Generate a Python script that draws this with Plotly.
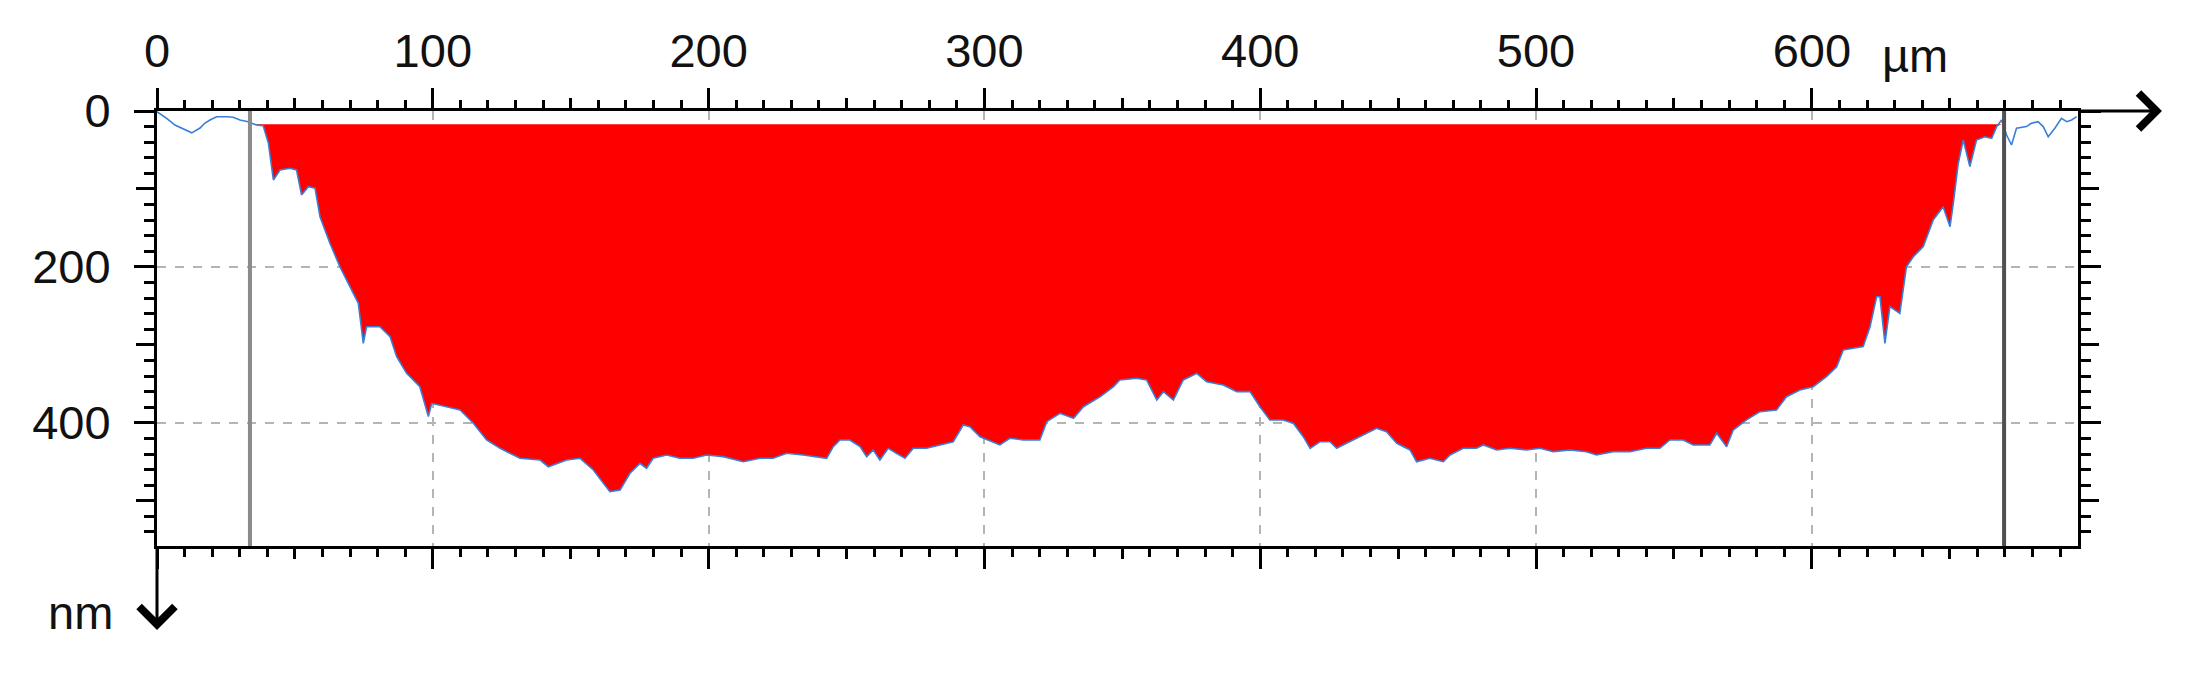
import numpy as np
import plotly.graph_objects as go

# profile: position (um) and depth below the surface (nm)
PROFILE_X_UM = [
    0.0, 3.5, 6.5, 9.0, 12.6, 15.6, 17.4, 19.2, 21.6, 25.3, 27.6, 30.1, 33.0, 36.1,
    38.5, 40.4, 42.2, 44.6, 48.2, 50.6, 52.4, 54.9, 57.3, 59.1, 62.7, 66.3, 70.0, 73.0,
    74.8, 76.0, 80.8, 84.5, 86.9, 90.5, 95.3, 98.4, 99.6, 105.0, 109.9, 114.7, 119.5,
    124.4, 131.6, 138.9, 141.9, 148.5, 153.4, 158.2, 161.8, 164.2, 167.9, 171.5, 175.1,
    177.5, 179.9, 184.8, 189.6, 194.4, 199.3, 205.3, 212.6, 218.6, 223.4, 228.3, 234.3,
    239.2, 242.8, 245.2, 247.6, 251.2, 254.9, 257.3, 259.7, 262.1, 265.1, 268.1, 271.2,
    274.2, 279.0, 283.9, 288.7, 292.3, 294.7, 298.4, 303.2, 305.6, 309.2, 314.1, 320.1,
    322.6, 327.4, 332.3, 335.9, 342.0, 346.8, 349.1, 355.2, 358.8, 362.5, 364.9, 368.5,
    372.1, 377.0, 380.6, 386.6, 391.5, 396.3, 399.9, 403.5, 408.3, 412.0, 415.6, 418.1,
    421.7, 425.3, 427.7, 431.3, 435.0, 438.6, 442.2, 445.8, 449.5, 454.3, 456.7, 461.5,
    466.4, 468.8, 473.6, 478.4, 480.9, 485.7, 490.5, 496.6, 501.4, 506.3, 512.3, 518.3,
    521.9, 528.0, 534.0, 540.1, 544.9, 548.5, 553.4, 557.0, 563.0, 565.5, 569.1, 571.5,
    576.3, 581.2, 587.2, 590.8, 595.7, 600.5, 605.3, 609.0, 611.4, 615.0, 618.6, 621.1,
    623.5, 624.7, 626.5, 628.3, 631.9, 634.3, 636.8, 640.4, 644.0, 647.6, 650.1, 651.3,
    653.1, 654.9, 657.3, 659.7, 662.7, 665.2, 667.0, 668.8, 670.6, 672.4, 674.2, 677.8,
    679.6, 682.0, 683.9, 685.7, 688.1, 690.5, 692.4, 694.2, 696.0,
]
PROFILE_DEPTH_NM = [
    1.0, 9.4, 18.0, 21.8, 28.0, 21.8, 15.4, 11.5, 7.3, 7.3, 8.0, 11.5, 13.7, 18.0,
    19.0, 41.5, 88.5, 75.7, 73.5, 75.7, 107.7, 97.0, 99.0, 135.6, 169.7, 199.7, 225.4, 246.7,
    298.0, 276.7, 276.7, 289.5, 315.2, 336.5, 353.6, 392.0, 375.0, 379.3, 383.5, 400.6, 422.0,
    432.7, 445.5, 447.7, 456.3, 447.7, 445.5, 460.5, 477.6, 488.3, 486.1, 464.7, 452.0,
    458.3, 445.5, 441.3, 445.5, 445.5, 441.3, 443.4, 449.9, 445.5, 445.5, 439.1, 441.3,
    443.4, 445.5, 430.6, 422.0, 422.0, 430.6, 443.4, 434.8, 447.7, 432.7, 439.1, 445.5,
    432.7, 432.7, 428.4, 424.2, 402.8, 405.0, 417.8, 424.2, 428.4, 419.8, 422.0, 422.0,
    398.5, 387.8, 394.2, 379.3, 366.5, 353.6, 345.0, 342.9, 345.0, 370.7, 360.0, 370.7,
    345.0, 336.5, 347.2, 351.5, 360.0, 360.0, 379.3, 396.3, 396.3, 400.6, 417.8, 432.7,
    424.2, 424.2, 432.7, 426.3, 419.8, 413.4, 407.0, 411.4, 426.3, 434.8, 449.9, 445.5,
    449.9, 441.3, 432.7, 432.7, 428.4, 434.8, 432.7, 434.8, 432.7, 437.0, 434.8, 437.0,
    441.3, 437.0, 437.0, 432.7, 432.7, 422.0, 422.0, 428.4, 428.4, 413.4, 430.6, 409.2,
    396.3, 385.7, 383.5, 366.5, 357.9, 353.6, 340.8, 328.0, 306.6, 304.4, 302.3, 276.7,
    238.2, 238.2, 298.0, 251.0, 259.5, 199.7, 186.9, 174.0, 139.8, 122.8, 148.4, 118.3,
    67.0, 37.2, 71.4, 37.2, 33.0, 35.0, 20.0, 11.5, 30.8, 43.6, 22.2, 20.0,
    15.8, 13.7, 20.0, 33.0, 22.2, 9.4, 13.7, 11.5, 7.3,
]

CURSOR_X_UM = [33.7, 669.7]
CURSOR_COLORS = ["#8a8a8a", "#505050"]
REFERENCE_LEVEL_NM = 17.0

X_RANGE = [0, 696.5]
Y_RANGE = [558, 0]
X_TICKS = [0, 100, 200, 300, 400, 500, 600]
X_TICK_TEXT = ["0", "100", "200", "300", "400", "500", "600"]
X_MID_TICKS = [50, 150, 250, 350, 450, 550, 650]
Y_TICKS = [0, 200, 400]
Y_TICK_TEXT = ["0", "200", "400"]
Y_MID_TICKS = [100, 300, 500]

FONT = "Liberation Sans, Arial, sans-serif"
GRID = "#b4b4b4"

x = np.array(PROFILE_X_UM)
depth = np.array(PROFILE_DEPTH_NM)
inside = (x >= CURSOR_X_UM[0]) & (x <= CURSOR_X_UM[1])
fill_x = x[inside]
fill_y = np.maximum(depth[inside], REFERENCE_LEVEL_NM)

fig = go.Figure()
fig.add_trace(
    go.Scatter(
        x=fill_x,
        y=[REFERENCE_LEVEL_NM] * len(fill_x),
        mode="lines",
        line=dict(width=0),
        hoverinfo="skip",
    )
)
fig.add_trace(
    go.Scatter(
        x=fill_x,
        y=fill_y,
        mode="lines",
        fill="tonexty",
        fillcolor="#ff0000",
        line=dict(width=0),
        hoverinfo="skip",
    )
)
fig.add_trace(
    go.Scatter(
        x=x,
        y=depth,
        mode="lines",
        line=dict(color="#3b7ed6", width=1.6),
    )
)
# carrier for the overlay axes holding the 50 um / 100 nm ticks
fig.add_trace(go.Scatter(x=[0], y=[0], mode="lines", xaxis="x2", yaxis="y2", hoverinfo="skip"))

for cx, col in zip(CURSOR_X_UM, CURSOR_COLORS):
    fig.add_vline(x=cx, line_color=col, line_width=4, layer="above")

tick_common = dict(ticks="outside", tickwidth=3, tickcolor="black", zeroline=False)

# the page body adds an 8 px offset, so margins are shifted by that much
fig.update_layout(
    width=2211,
    height=684,
    margin=dict(l=149, r=141, t=103, b=146, pad=0),
    plot_bgcolor="white",
    paper_bgcolor="white",
    showlegend=False,
    font=dict(family=FONT, size=47, color="#111111"),
    xaxis=dict(
        side="top",
        range=X_RANGE,
        tickvals=X_TICKS,
        ticktext=X_TICK_TEXT,
        ticklen=20,
        showline=True,
        linewidth=3,
        linecolor="black",
        mirror="ticks",
        showgrid=True,
        gridcolor=GRID,
        gridwidth=1.5,
        griddash="dash",
        ticklabelstandoff=2,
        minor=dict(dtick=10, tick0=0, ticklen=8, tickwidth=3, tickcolor="black", ticks="outside", showgrid=False),
        **tick_common,
    ),
    xaxis2=dict(
        overlaying="x",
        side="top",
        range=X_RANGE,
        tickvals=X_MID_TICKS,
        ticklen=12,
        mirror="ticks",
        showticklabels=False,
        showgrid=False,
        **tick_common,
    ),
    yaxis=dict(
        range=Y_RANGE,
        tickvals=Y_TICKS,
        ticktext=Y_TICK_TEXT,
        ticklen=20,
        showline=True,
        linewidth=3,
        linecolor="black",
        mirror="ticks",
        showgrid=True,
        gridcolor=GRID,
        gridwidth=1.5,
        griddash="dash",
        ticklabelstandoff=14,
        minor=dict(dtick=20, tick0=0, ticklen=10, tickwidth=3, tickcolor="black", ticks="outside", showgrid=False),
        **tick_common,
    ),
    yaxis2=dict(
        overlaying="y",
        side="left",
        range=Y_RANGE,
        tickvals=Y_MID_TICKS,
        ticklen=20,
        mirror="ticks",
        showticklabels=False,
        showgrid=False,
        **tick_common,
    ),
)

# axis arrows and unit labels
fig.add_annotation(
    x=1.0437, y=1, xref="paper", yref="paper", text="", showarrow=True,
    ax=-84, ay=0, arrowhead=4, arrowsize=2.3, arrowwidth=3, arrowcolor="black",
)
fig.add_annotation(
    x=0, y=-0.193, xref="paper", yref="paper", text="", showarrow=True,
    ax=0, ay=-84, arrowhead=4, arrowsize=2.3, arrowwidth=3, arrowcolor="black",
)
fig.add_annotation(
    x=600, y=1, xref="x", yref="paper", text="µm", showarrow=False,
    xanchor="left", yanchor="middle", xshift=68, yshift=56,
)
fig.add_annotation(
    x=-0.040, y=-0.152, xref="paper", yref="paper", text="nm", showarrow=False,
    xanchor="center", yanchor="middle",
)

fig.write_html("out.html")
